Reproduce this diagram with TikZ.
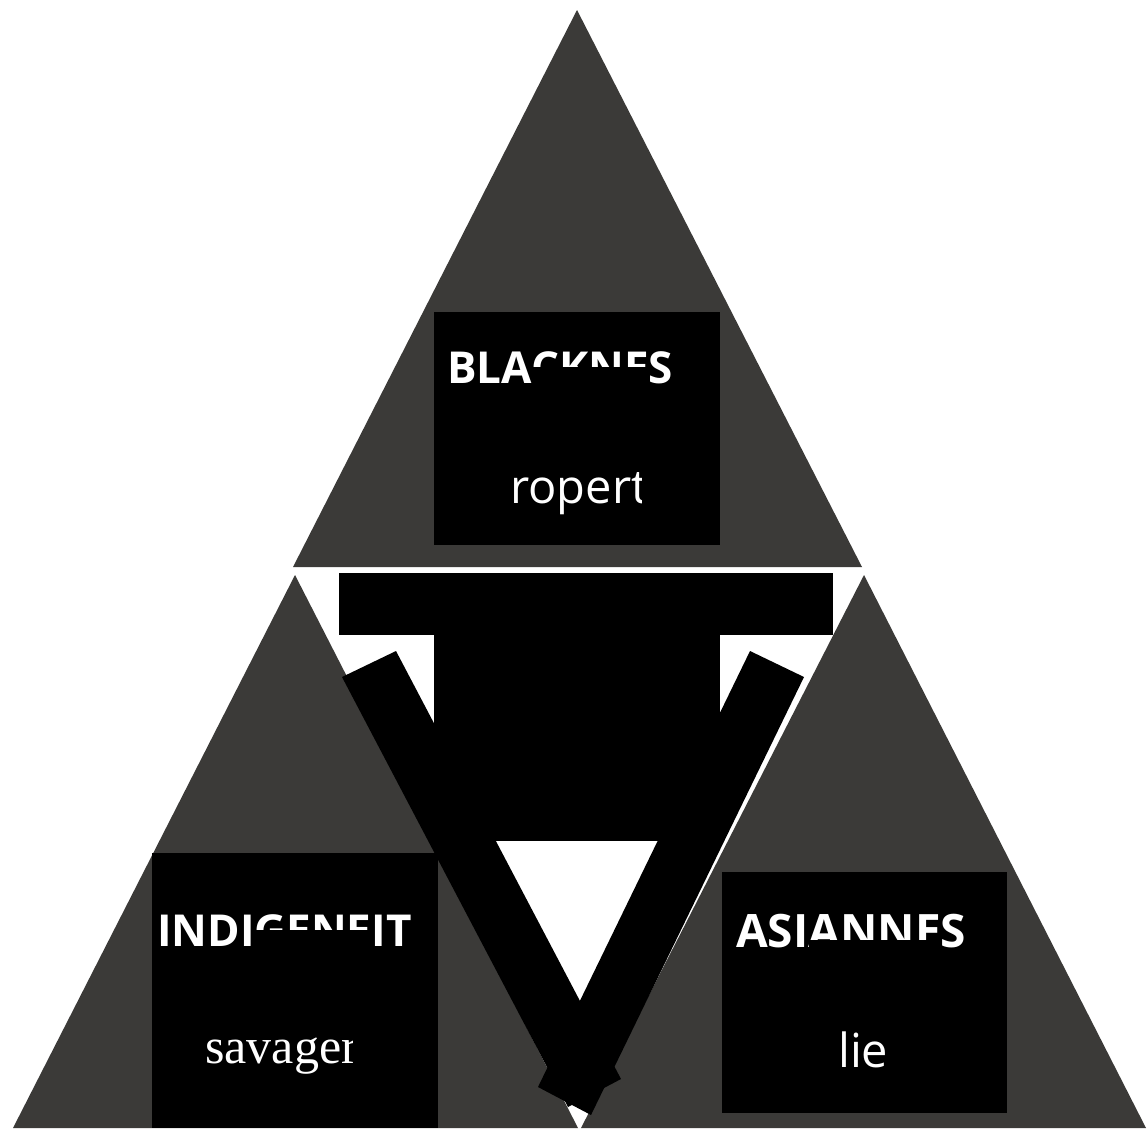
\documentclass[tikz,border=0pt]{standalone}
\usepackage{fontspec}
\usetikzlibrary{calc}
\setmainfont{Liberation Serif}
\setsansfont{Open Sans}
\newfontfamily\serfont{Liberation Serif}
\definecolor{trigray}{RGB}{59,58,56}
\newlength\wBlaA \newlength\wBlaB
\newlength\wIndA \newlength\wIndB
\newlength\wAsiA \newlength\wAsiB
\newcommand\capfont{\sffamily\bfseries\fontsize{44}{52}\selectfont}
\newcommand\asifont{\sffamily\bfseries\fontsize{46}{54}\selectfont}
\AtBeginDocument{%
\settowidth\wBlaA{\capfont BLA}\global\wBlaA=\wBlaA
\settowidth\wBlaB{\capfont BLACKNE}\global\wBlaB=\wBlaB
\settowidth\wIndA{\capfont INDI}\global\wIndA=\wIndA
\settowidth\wIndB{\capfont INDIGENE}\global\wIndB=\wIndB
\settowidth\wAsiA{\asifont ASI}\global\wAsiA=\wAsiA
\settowidth\wAsiB{\asifont ASIANNE}\global\wAsiB=\wAsiB}
\begin{document}
\begin{tikzpicture}[x=1pt,y=-1pt,
  tri/.style={fill=trigray,draw=none},
  blk/.style={fill=black,draw=none},
  captxt/.style={text=white,inner sep=0pt,anchor=base west,font=\capfont},
  subtxt/.style={text=white,inner sep=0pt,anchor=base west,font=\sffamily\fontsize{47}{56}\selectfont},
  sertxt/.style={text=white,inner sep=0pt,anchor=base west,font=\serfont\fontsize{50}{60}\selectfont}]
\useasboundingbox[fill=white] (0,0) rectangle (1147,1128);
% triangles
\fill[tri] (577,10) -- (862,567) -- (293,567) -- cycle;
\fill[tri] (295,575) -- (578,1128) -- (13,1128) -- cycle;
\fill[tri] (864,575) -- (1146,1128) -- (581,1128) -- cycle;
% boxes
\fill[blk] (434,312) rectangle (720,545);
\fill[blk] (152,853) rectangle (438,1128);
\fill[blk] (722,872) rectangle (1007,1113);
% central black shapes
\fill[blk] (339,573) rectangle (833,635);
\fill[blk] (434,575) rectangle (720,841);
\fill[blk] (342,677) -- (396,651) -- (621,1079) -- (568,1107) -- cycle;
\fill[blk] (750,651) -- (804,677) -- (591,1115) -- (538,1087) -- cycle;
% texts
\node[captxt] (blackness) at (447,383) {BLACKNES};
\fill[blk] ($(blackness.base west)+(\wBlaA+1pt,16pt)$) rectangle ($(blackness.base west)+(\wBlaB,-25pt)$);
\begin{scope}
\clip (434,312) rectangle (641,545);
\node[subtxt] (property) at (510,503) {ropert};
\end{scope}
\node[captxt] (indigeneity) at (157,946) {INDIGENEIT};
\fill[blk] ($(indigeneity.base west)+(\wIndA+1pt,16pt)$) rectangle ($(indigeneity.base west)+(\wIndB,-25pt)$);
\begin{scope}
\clip (152,853) rectangle (352,1128);
\node[sertxt] (savagery) at (205,1063) {savager};
\end{scope}
\node[captxt,font=\asifont] (asianness) at (736,947) {ASIANNES};
\fill[blk] ($(asianness.base west)+(\wAsiA+1pt,7pt)$) rectangle ($(asianness.base west)+(\wAsiB,-25pt)$);
\node[subtxt] (lie) at (838,1067) {lie};
\end{tikzpicture}
\end{document}
